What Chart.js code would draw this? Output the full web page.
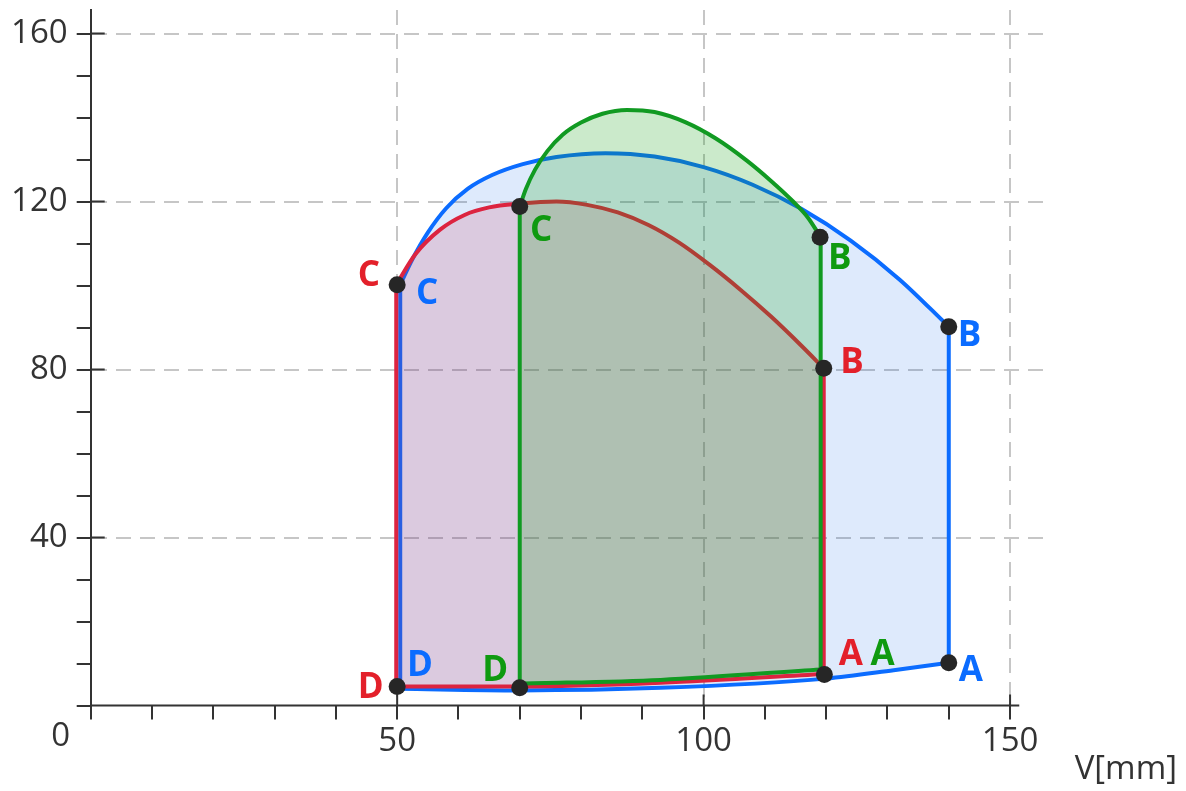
<!DOCTYPE html>
<html>
<head>
<meta charset="utf-8">
<title>p-V cycles</title>
<script src="https://cdn.jsdelivr.net/npm/chart.js@4.4.1/dist/chart.umd.min.js"></script>
<style>
    html, body { margin: 0; padding: 0; background: #fff; }
    canvas { display: block; }
</style>
</head>
<body>
<canvas id="pv" width="1186" height="791"></canvas>
<script>
// --- data (V in mm, p in axis units) ---

// blue cycle
var blueUpperV = [50.5, 52.5, 55.0, 58.0, 61.5, 65.5, 70.5, 76.0, 84.0, 92.0, 100.0, 108.0, 116.0, 124.0, 132.0, 140.0];
var blueUpperP = [100.2, 106.3, 112.6, 118.4, 123.0, 126.3, 128.9, 130.6, 131.5, 130.7, 128.2, 124.0, 118.2, 110.7, 101.4, 90.2];
var blueLowerV = [50.5, 70.0, 93.0, 120.0, 131.0, 140.0];
var blueLowerP = [4.0, 3.6, 4.2, 6.4, 8.4, 10.2];

// red cycle
var redUpperV = [49.85, 53.0, 57.0, 61.0, 65.0, 70.0, 76.0, 81.0, 86.0, 91.0, 96.0, 101.0, 106.0, 111.0, 116.0, 119.6];
var redUpperP = [100.2, 107.5, 113.3, 116.8, 118.6, 119.5, 120.0, 119.2, 117.4, 114.4, 110.2, 104.9, 99.0, 92.6, 85.6, 80.3];
var redLowerV = [49.85, 70.0, 93.0, 119.6];
var redLowerP = [4.5, 4.5, 5.4, 7.5];

// green cycle
var greenUpperV = [70.0, 71.0, 72.5, 74.5, 77.0, 80.0, 83.5, 87.5, 92.0, 97.0, 102.0, 107.0, 111.0, 114.6, 117.0, 119.1];
var greenUpperP = [118.8, 123.0, 127.6, 132.0, 135.9, 138.8, 140.9, 141.8, 141.3, 138.9, 135.0, 129.8, 124.9, 120.0, 116.2, 111.5];
var greenLowerV = [70.0, 93.0, 119.1];
var greenLowerP = [5.2, 6.1, 8.6];

// state points (black dots)
var dotV = [140, 140, 50, 50, 70, 119, 119.6, 119.7, 70];
var dotP = [10.2, 90.2, 100.2, 4.5, 118.8, 111.5, 80.3, 7.4, 4.2];

// state point names
var labelText = ['C', 'C', 'C', 'B', 'B', 'B', 'A', 'A', 'A', 'D', 'D', 'D'];
var labelSeries = ['red', 'blue', 'green', 'green', 'blue', 'red', 'red', 'green', 'blue', 'red', 'blue', 'green'];
var labelV = [45.4, 54.9, 73.5, 122.2, 143.4, 124.2, 124.0, 129.2, 143.6, 45.7, 53.7, 66.0];
var labelP = [102.5, 98.2, 113.2, 106.5, 88.2, 81.8, 12.3, 12.3, 8.5, 4.4, 9.6, 8.5];

// axes
var xTickLabels = [50, 100, 150];
var yTickLabels = [40, 80, 120, 160];
var originLabel = '0';
var xTitle = 'V[mm]';

var lineColor = {blue: '#0b6cff', red: '#dc2440', green: '#119a22'};
var fillColor = {blue: 'rgba(0, 95, 235, 0.13)', red: 'rgba(200, 30, 70, 0.16)', green: 'rgba(20, 160, 20, 0.22)'};
var textColor = {blue: '#0b6cff', red: '#e3202a', green: '#0f9a10'};
var AXIS = '#333333';
var FONT = '"Open Sans", "Noto Sans", sans-serif';

function pts(vs, ps) {
    var out = [];
    for (var i = 0; i < vs.length; i++) {
        out.push({x: vs[i], y: ps[i]});
    }
    return out;
}

function lineSet(name, data, order, fillTarget) {
    return {
        data: data,
        showLine: true,
        fill: fillTarget === undefined ? false : fillTarget,
        cubicInterpolationMode: 'monotone',
        borderColor: lineColor[name],
        backgroundColor: fillColor[name],
        borderWidth: 4,
        pointRadius: 0,
        pointHoverRadius: 0,
        order: order
    };
}

// one cycle = upper curve C-B (filled down to the lower curve), lower curve D-A,
// and the two vertical strokes C-D and B-A
var datasets = [];
function addCycle(name, upV, upP, lowV, lowP, order) {
    var up = pts(upV, upP);
    var low = pts(lowV, lowP);
    var lowIndex = datasets.length + 1;
    datasets.push(lineSet(name, up, order, lowIndex));
    datasets.push(lineSet(name, low, order - 1));
    datasets.push(lineSet(name, [low[0], up[0]], order - 2));
    datasets.push(lineSet(name, [low[low.length - 1], up[up.length - 1]], order - 3));
}

addCycle('blue', blueUpperV, blueUpperP, blueLowerV, blueLowerP, 34);
addCycle('red', redUpperV, redUpperP, redLowerV, redLowerP, 24);
addCycle('green', greenUpperV, greenUpperP, greenLowerV, greenLowerP, 14);

datasets.push({
    data: pts(dotV, dotP),
    pointRadius: 8.5,
    pointHoverRadius: 8.5,
    backgroundColor: '#262626',
    borderWidth: 0,
    order: 1
});

var extras = {
    id: 'extras',
    beforeDatasetsDraw: function (chart) {
        var ctx = chart.ctx;
        var xs = chart.scales.x, ys = chart.scales.y;
        var y0 = ys.getPixelForValue(0);
        ctx.save();
        ctx.strokeStyle = AXIS;
        ctx.lineWidth = 2;
        ctx.beginPath();
        ctx.moveTo(xs.left, y0);
        ctx.lineTo(xs.getPixelForValue(151.5), y0);
        // major ticks also reach into the plot
        for (var i = 0; i < yTickLabels.length; i++) {
            var py = ys.getPixelForValue(yTickLabels[i]);
            ctx.moveTo(xs.left, py);
            ctx.lineTo(xs.left + 14, py);
        }
        for (var k = 0; k < xTickLabels.length; k++) {
            var px = xs.getPixelForValue(xTickLabels[k]);
            ctx.moveTo(px, y0);
            ctx.lineTo(px, y0 - 11);
        }
        ctx.stroke();
        ctx.restore();
    },
    afterDraw: function (chart) {
        var ctx = chart.ctx;
        var xs = chart.scales.x, ys = chart.scales.y;
        ctx.save();
        ctx.fillStyle = AXIS;
        ctx.font = '33px ' + FONT;
        ctx.textAlign = 'center';
        ctx.textBaseline = 'middle';
        ctx.fillText(originLabel, xs.left - 30, ys.getPixelForValue(0) + 31);
        ctx.textAlign = 'right';
        ctx.fillText(xTitle, chart.width - 9, 770);

        ctx.font = 'bold 35px ' + FONT;
        ctx.textAlign = 'center';
        for (var i = 0; i < labelText.length; i++) {
            ctx.fillStyle = textColor[labelSeries[i]];
            ctx.fillText(labelText[i], xs.getPixelForValue(labelV[i]), ys.getPixelForValue(labelP[i]) + 1);
        }
        ctx.restore();
    }
};

Chart.defaults.font.family = FONT;

var chart = new Chart(document.getElementById('pv'), {
    type: 'scatter',
    data: {datasets: datasets},
    options: {
        responsive: false,
        animation: false,
        devicePixelRatio: 1,
        layout: {padding: {top: 10, right: 141, bottom: 0, left: 0}},
        plugins: {
            legend: {display: false},
            tooltip: {enabled: false},
            filler: {propagate: false}
        },
        scales: {
            x: {
                type: 'linear',
                min: 0,
                max: 155.7,
                afterFit: function (scale) {
                    scale.height = 85.5;
                    scale.paddingLeft = 0;
                    scale.paddingRight = 0;
                },
                ticks: {
                    stepSize: 10,
                    includeBounds: false,
                    autoSkip: false,
                    maxRotation: 0,
                    padding: 2,
                    color: AXIS,
                    font: {size: 33},
                    callback: function (v) { return xTickLabels.indexOf(v) >= 0 ? String(v) : ''; }
                },
                grid: {
                    color: function (c) {
                        return c.tick && xTickLabels.indexOf(c.tick.value) >= 0 ? '#c6c6c6' : 'rgba(0,0,0,0)';
                    },
                    lineWidth: 2,
                    tickColor: AXIS,
                    tickWidth: 2,
                    tickLength: 14
                },
                border: {display: false, dash: [15, 9]}
            },
            y: {
                type: 'linear',
                min: 0,
                max: 165.6,
                afterFit: function (scale) {
                    scale.width = 90.7;
                    scale.paddingTop = 0;
                    scale.paddingBottom = 0;
                },
                ticks: {
                    stepSize: 10,
                    includeBounds: false,
                    autoSkip: false,
                    padding: 9,
                    color: AXIS,
                    font: {size: 33},
                    callback: function (v) { return yTickLabels.indexOf(v) >= 0 ? String(v) : ''; }
                },
                grid: {
                    color: function (c) {
                        return c.tick && yTickLabels.indexOf(c.tick.value) >= 0 ? '#c6c6c6' : 'rgba(0,0,0,0)';
                    },
                    lineWidth: 2,
                    tickColor: AXIS,
                    tickWidth: 2,
                    tickLength: 14
                },
                border: {display: true, color: AXIS, width: 2, dash: [15, 9]}
            }
        }
    },
    plugins: [extras]
});
</script>
</body>
</html>
